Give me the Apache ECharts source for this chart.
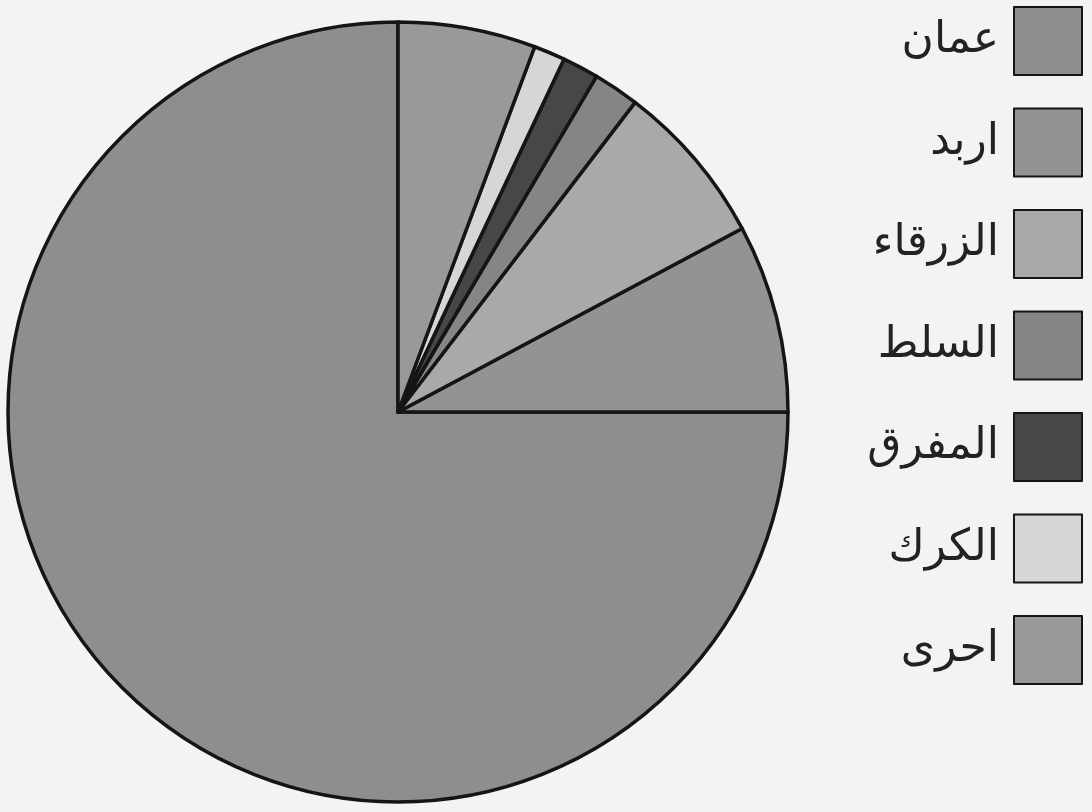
<!DOCTYPE html>
<html>
<head>
<meta charset="utf-8">
<script src="https://cdn.jsdelivr.net/npm/echarts@6/dist/echarts.min.js"></script>
<style>
html,body{margin:0;padding:0;background:#f3f3f3;}
#c{width:1092px;height:812px;}
</style>
</head>
<body>
<div id="c"></div>
<script>
const categories = ['عمان', 'اربد', 'الزرقاء', 'السلط', 'المفرق', 'الكرك', 'احرى'];
const values = [75.0, 7.8, 6.8, 1.9, 1.5, 1.3, 5.7];
const colors = ['#8e8e8e', '#939393', '#a9a9a9', '#858585', '#474747', '#d6d6d6', '#999999'];

const chart = echarts.init(document.getElementById('c'));
chart.setOption({
  backgroundColor: '#f3f3f3',
  animation: false,
  legend: {
    orient: 'vertical',
    right: 4,
    top: 1,
    align: 'right',
    itemWidth: 68,
    itemHeight: 68,
    itemGap: 31.5,
    icon: 'rect',
    textStyle: { fontFamily: 'DejaVu Sans', fontSize: 44, color: '#222222', padding: [0, 10, 0, 0] },
    data: categories
  },
  series: [{
    type: 'pie',
    center: [398, 412],
    radius: 390,
    startAngle: 90,
    clockwise: false,
    label: { show: false },
    labelLine: { show: false },
    itemStyle: { borderColor: '#151515', borderWidth: 3.5 },
    data: categories.map((n, i) => ({ name: n, value: values[i], itemStyle: { color: colors[i] } }))
  }]
});
</script>
</body>
</html>
